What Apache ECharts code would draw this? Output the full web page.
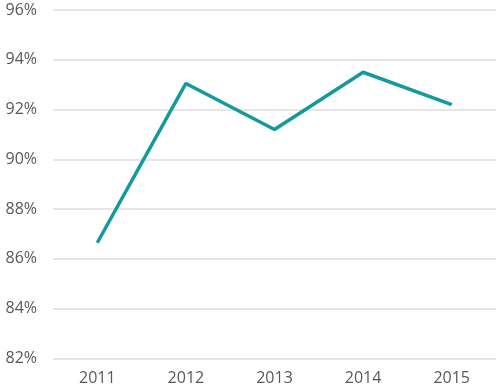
<!DOCTYPE html>
<html><head><meta charset="utf-8">
<script src="https://cdn.jsdelivr.net/npm/echarts@6/dist/echarts.min.js"></script>
<style>html,body{margin:0;padding:0;background:#fff}#c{width:500px;height:391px}</style>
</head><body><div id="c"></div>
<script>
const categories = ['2011','2012','2013','2014','2015'];
const values = [86.65, 93.05, 91.2, 93.5, 92.2];
const yTicks = [82, 84, 86, 88, 90, 92, 94, 96];

const chart = echarts.init(document.getElementById('c'), null, {renderer:'canvas'});
chart.setOption({
  animation: false,
  grid: {left: 53, right: 4, top: 10, bottom: 32.5},
  xAxis: {
    type: 'category', data: categories, boundaryGap: true,
    axisLine: {show: false}, axisTick: {show: false},
    axisLabel: {color: '#595959', fontSize: 16, fontFamily: 'Open Sans', margin: 12}
  },
  yAxis: {
    type: 'value', min: yTicks[0], max: yTicks[yTicks.length-1], interval: 2,
    axisLine: {show: false}, axisTick: {show: false},
    axisLabel: {color: '#595959', fontSize: 16, fontFamily: 'Open Sans', margin: 16, formatter: v => v + '%'},
    splitLine: {lineStyle: {color: '#dedede', width: 1.5}}
  },
  series: [{
    type: 'line', data: values, symbol: 'none',
    lineStyle: {color: '#13999e', width: 3.5}
  }]
});
</script></body></html>
